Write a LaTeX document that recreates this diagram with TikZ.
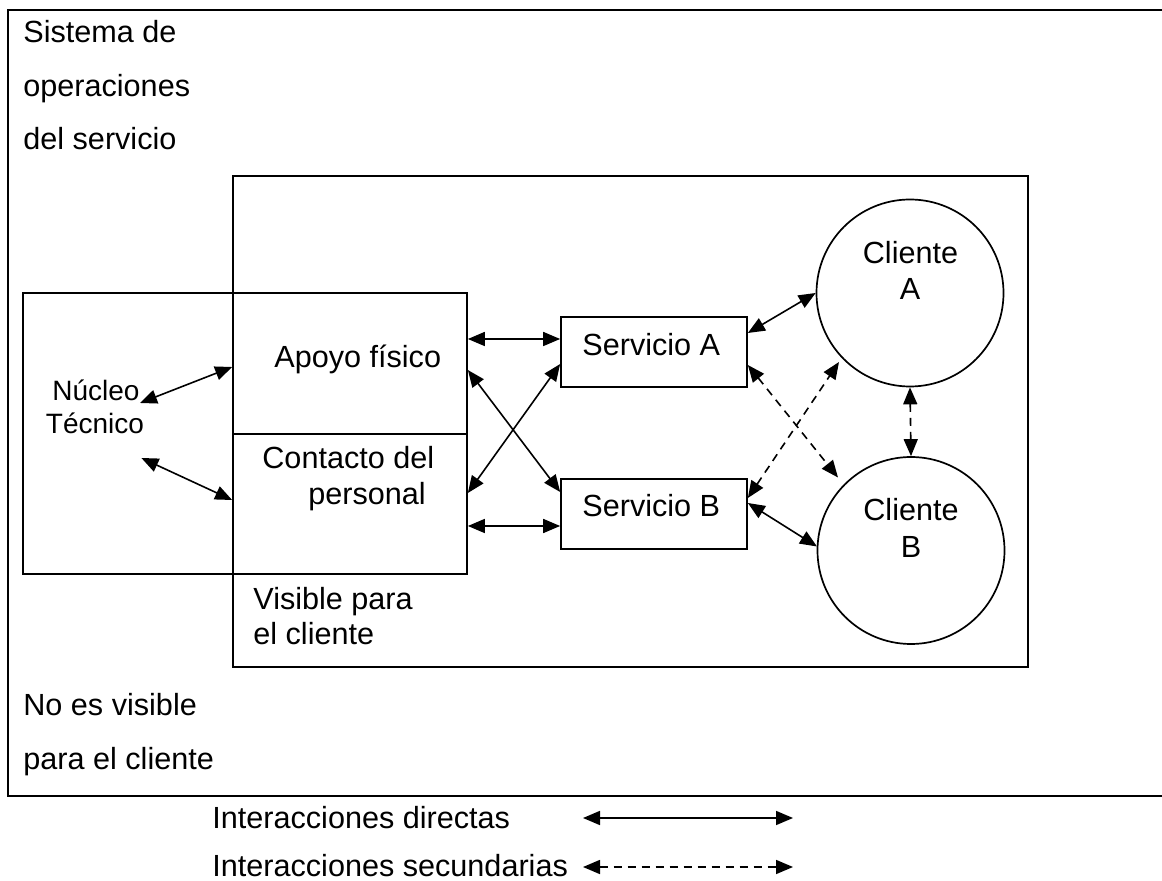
\documentclass[tikz,border=0pt]{standalone}
\usepackage{fontspec}
\setmainfont{Liberation Sans}
\usetikzlibrary{arrows.meta,calc}
\begin{document}
\begin{tikzpicture}[x=0.5pt,y=-0.5pt,
  box/.style={draw, line width=0.85pt, rectangle, inner sep=0pt},
  client/.style={draw, line width=0.85pt, circle, inner sep=0pt, minimum size=93.5pt},
  lbl/.style={inner sep=0pt, font=\fontsize{15.3}{18}\selectfont},
  smalllbl/.style={inner sep=0pt, font=\fontsize{14}{16}\selectfont},
  twoway/.style={line width=0.8pt,
    {Triangle[length=8.5pt,width=7pt]}-{Triangle[length=8.5pt,width=7pt]}},
  twowaydash/.style={twoway, dash pattern=on 4pt off 3pt},
]
\useasboundingbox (0,0) rectangle (1162,881);

% outer frame of the service operations system
\draw[line width=1.1pt] (1163,10) -| (8,796) -- (1163,796);

% boxes
\node[box, minimum width=397.5pt, minimum height=245.5pt] (visible) at (630.5,421.5) {};
\node[box, minimum width=222pt, minimum height=140.5pt] (core) at (245,433.5) {};
\node[box, minimum width=117pt, minimum height=70.5pt] (apoyo) at (350,363.5) {};
\node[box, minimum width=117pt, minimum height=70pt] (contacto) at (350,504) {};
\node[box, minimum width=93pt, minimum height=35pt] (servA) at (654,352) {};
\node[box, minimum width=93pt, minimum height=35pt] (servB) at (654,514) {};
\node[client] (cliA) at (910,293) {};
\node[client] (cliB) at (911,550.5) {};

% texts
\node[lbl, anchor=base west] at (23,43) {Sistema de};
\node[lbl, anchor=base west] at (23,96.5) {operaciones};
\node[lbl, anchor=base west] at (23,150) {del servicio};
\node[lbl, anchor=base west] at (23,715) {No es visible};
\node[lbl, anchor=base west] at (23,769) {para el cliente};
\node[lbl, anchor=base west] at (253,610) {Visible para};
\node[lbl, anchor=base west] at (253,645) {el cliente};
\node[lbl, anchor=base west] at (274,368) {Apoyo físico};
\node[lbl, anchor=base west] at (262,469) {Contacto del};
\node[lbl, anchor=base west] at (308,505) {personal};
\node[lbl, anchor=base west] at (582,356) {Servicio A};
\node[lbl, anchor=base west] at (582,517) {Servicio B};
\node[lbl, anchor=base] at (910.5,264) {Cliente};
\node[lbl, anchor=base] at (910,300) {A};
\node[lbl, anchor=base] at (911,521) {Cliente};
\node[lbl, anchor=base] at (911,557.5) {B};
\node[smalllbl, anchor=base] (nucA) at (96,401) {Núcleo};
\node[smalllbl, anchor=base] (nucB) at (95,434) {Técnico};
\node[lbl, anchor=base west] at (212,828) {Interacciones directas};
\node[lbl, anchor=base west] at (212,876) {Interacciones secundarias};

% direct interactions
\draw[twoway] ($(nucA.base east)+(0,2)$) -- ($(apoyo.west)+(0,3.5)$);
\draw[twoway] ($(nucB.base east)+(-3,24)$) -- ($(contacto.west)+(0,-4)$);
\draw[twoway] ($(apoyo.east)+(0,-24.5)$) -- ($(servA.west)+(0,-13)$);
\draw[twoway] ($(contacto.east)+(0,22)$) -- ($(servB.west)+(0,12)$);
\draw[twoway] ($(apoyo.east)+(0,6.5)$) -- ($(servB.west)+(0,-22)$);
\draw[twoway] ($(contacto.east)+(0,-11)$) -- ($(servA.west)+(0,12)$);
\draw[twoway] ($(servA.east)+(0,-19)$) -- (cliA.west);
\draw[twoway] ($(servB.east)+(0,-11)$) -- ($(cliB.center)+(-94,-4)$);

% secondary interactions
\draw[twowaydash] ($(servA.east)+(0,13)$) -- ($(cliB.center)+(-73,-73)$);
\draw[twowaydash] ($(servB.east)+(0,-16)$) -- ($(cliA.center)+(-71,69)$);
\draw[twowaydash] (cliA.south) -- (cliB.north);

% legend
\coordinate (d1) at (583,818);
\coordinate (d2) at (793,818);
\coordinate (s1) at (583,867);
\coordinate (s2) at (793,867);
\draw[twoway] (d1) -- (d2);
\draw[twowaydash] (s1) -- (s2);
\end{tikzpicture}
\end{document}
